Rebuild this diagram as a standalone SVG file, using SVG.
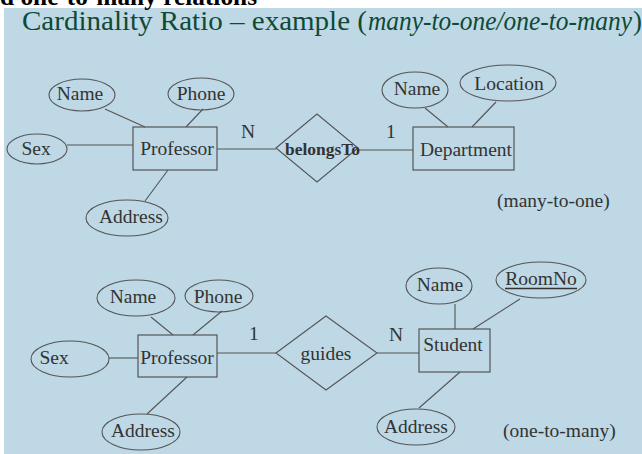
<svg xmlns="http://www.w3.org/2000/svg" width="642" height="454" viewBox="0 0 642 454">
<style>
.bg{fill:#bed8e5}
.ent{fill:none;stroke:#555;stroke-width:1.2}
.att{fill:none;stroke:#555;stroke-width:1.1}
.rel{fill:none;stroke:#555;stroke-width:1.1}
.ln{stroke:#555;stroke-width:1.1;fill:none}
.t{font-family:"Liberation Serif","Times New Roman",serif;font-size:19.5px;fill:#333}
.c{text-anchor:middle}
.title{font-family:"Liberation Serif","Times New Roman",serif;font-size:27px;fill:#0e4a36}
</style>
<rect x="0" y="0" width="642" height="454" fill="#ffffff"/>
<rect class="bg" x="4" y="8" width="638" height="446"/>
<text x="0" y="5" font-family="Liberation Serif, Times New Roman, serif" font-weight="bold" font-size="26" fill="#000" textLength="257" lengthAdjust="spacingAndGlyphs">d one-to-many relations</text>
<g id="title">
<text class="title" x="22" y="30" textLength="345" lengthAdjust="spacingAndGlyphs">Cardinality Ratio – example (</text>
<text class="title" x="368" y="30" font-style="italic" textLength="264" lengthAdjust="spacingAndGlyphs">many-to-one/one-to-many</text>
<text class="title" x="633" y="30">)</text>
</g>

<g id="connectors">
<line class="ln" x1="105" y1="109" x2="145" y2="127"/>
<line class="ln" x1="203" y1="109" x2="186" y2="127"/>
<line class="ln" x1="67" y1="145" x2="133" y2="145"/>
<line class="ln" x1="168" y1="170" x2="145" y2="201"/>
<line class="ln" x1="217" y1="149" x2="276" y2="149"/>
<line class="ln" x1="358" y1="150" x2="413" y2="150"/>
<line class="ln" x1="425" y1="108" x2="448" y2="127"/>
<line class="ln" x1="496" y1="102" x2="472" y2="127"/>
<line class="ln" x1="151" y1="317" x2="173" y2="335"/>
<line class="ln" x1="222" y1="311" x2="193" y2="335"/>
<line class="ln" x1="109" y1="358" x2="138" y2="358"/>
<line class="ln" x1="187" y1="377" x2="147" y2="414"/>
<line class="ln" x1="217" y1="353" x2="276" y2="353"/>
<line class="ln" x1="377" y1="353" x2="419" y2="353"/>
<line class="ln" x1="455" y1="304" x2="455" y2="329"/>
<line class="ln" x1="520" y1="299" x2="473" y2="329"/>
<line class="ln" x1="419" y1="408" x2="460" y2="372"/>
<text class="t" x="241" y="138">N</text>
<text class="t" x="386" y="138">1</text>
<text class="t" x="249" y="340">1</text>
<text class="t" x="389" y="341">N</text>
</g>

<g id="prof1">
<rect class="ent" x="133" y="127" width="84" height="43"/>
<text class="t c" x="177" y="155">Professor</text>
</g>
<g id="prof1-name">
<ellipse class="att" cx="82" cy="95" rx="33" ry="16"/>
<text class="t c" x="80" y="100">Name</text>
</g>
<g id="prof1-phone">
<ellipse class="att" cx="201" cy="94" rx="33" ry="16"/>
<text class="t c" x="201" y="100">Phone</text>
</g>
<g id="prof1-sex">
<ellipse class="att" cx="37" cy="149" rx="30" ry="15"/>
<text class="t c" x="36" y="155">Sex</text>
</g>
<g id="prof1-address">
<ellipse class="att" cx="127" cy="218" rx="41" ry="18"/>
<text class="t c" x="131" y="223">Address</text>
</g>
<g id="belongsTo">
<polygon class="rel" points="276,148 317,114 358,148 317,182"/>
<text x="285" y="155" font-family="Liberation Serif, Times New Roman, serif" font-weight="bold" font-size="17" fill="#333" textLength="75" lengthAdjust="spacingAndGlyphs">belongsTo</text>
</g>
<g id="department">
<rect class="ent" x="413" y="127" width="101" height="43"/>
<text class="t c" x="466" y="156">Department</text>
</g>
<g id="dept-name">
<ellipse class="att" cx="415" cy="90" rx="33" ry="18"/>
<text class="t c" x="417" y="95">Name</text>
</g>
<g id="dept-location">
<ellipse class="att" cx="508" cy="83" rx="48" ry="18"/>
<text class="t c" x="509" y="90">Location</text>
</g>
<text class="t" x="497" y="207">(many-to-one)</text>

<g id="prof2">
<rect class="ent" x="138" y="335" width="79" height="42"/>
<text class="t c" x="177" y="364">Professor</text>
</g>
<g id="prof2-name">
<ellipse class="att" cx="136" cy="298" rx="39" ry="18"/>
<text class="t c" x="133" y="303">Name</text>
</g>
<g id="prof2-phone">
<ellipse class="att" cx="219" cy="296" rx="34" ry="16"/>
<text class="t c" x="218" y="303">Phone</text>
</g>
<g id="prof2-sex">
<ellipse class="att" cx="70" cy="359" rx="39" ry="18"/>
<text class="t c" x="54" y="364">Sex</text>
</g>
<g id="prof2-address">
<ellipse class="att" cx="141" cy="432" rx="39" ry="18"/>
<text class="t c" x="143" y="437">Address</text>
</g>
<g id="guides">
<polygon class="rel" points="276,353 326,316 377,353 326,390"/>
<text class="t c" x="326" y="360">guides</text>
</g>
<g id="student">
<rect class="ent" x="419" y="329" width="71" height="43"/>
<text class="t c" x="453" y="351">Student</text>
</g>
<g id="stud-name">
<ellipse class="att" cx="439" cy="286" rx="33" ry="18"/>
<text class="t c" x="440" y="291">Name</text>
</g>
<g id="stud-roomno">
<ellipse class="att" cx="541" cy="280" rx="45" ry="18"/>
<text class="t c" x="541" y="285">RoomNo</text>
<line x1="505" y1="288.5" x2="577" y2="288.5" stroke="#333" stroke-width="1.6"/>
</g>
<g id="stud-address">
<ellipse class="att" cx="416" cy="427" rx="39" ry="18"/>
<text class="t c" x="416" y="433">Address</text>
</g>
<text class="t" x="503" y="437">(one-to-many)</text>
</svg>
